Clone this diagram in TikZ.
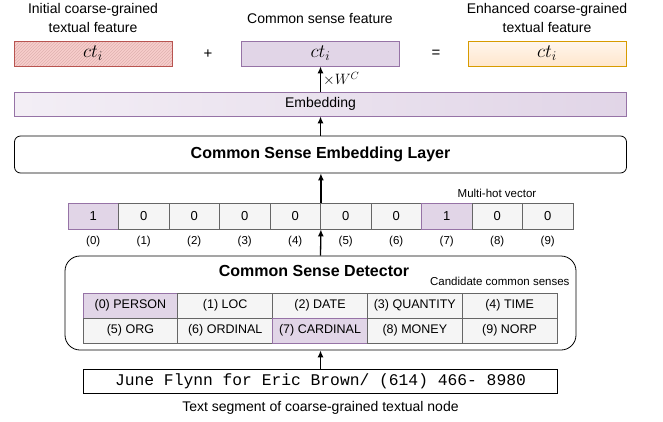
\RequirePackage{fix-cm}
\documentclass[tikz,border=0pt]{standalone}
\usepackage{fontspec}
\setmainfont{Liberation Sans}
\setmonofont{Liberation Mono}
\usetikzlibrary{patterns,arrows.meta}
\definecolor{purplefill}{HTML}{E1D5E7}
\definecolor{purpledraw}{HTML}{9673A6}
\definecolor{redfill}{HTML}{F8CECC}
\definecolor{reddraw}{HTML}{B85450}
\definecolor{orangefill}{HTML}{FFE6CC}
\definecolor{orangedraw}{HTML}{D79B00}
\definecolor{grayfill}{HTML}{F5F5F5}
\definecolor{graydraw}{HTML}{666666}

\begin{document}
\begin{tikzpicture}[x=1pt,y=-1pt,
    feat/.style={draw, minimum width=158pt, minimum height=25pt, inner sep=0pt, line width=0.8pt, font=\fontsize{19}{19}\selectfont},
    layerbox/.style={draw, rounded corners=6pt, line width=0.8pt, inner sep=0pt, font=\fontsize{16}{16}\selectfont\bfseries},
    cell/.style={draw=graydraw, fill=grayfill, minimum width=50.5pt, minimum height=26pt, inner sep=0pt, line width=0.8pt, font=\fontsize{13}{13}\selectfont},
    hotcell/.style={cell, draw=purpledraw, fill=purplefill},
    idx/.style={font=\fontsize{11.5}{11.5}\selectfont},
    sense/.style={draw=graydraw, fill=grayfill, minimum width=94.8pt, minimum height=25pt, inner sep=0pt, line width=0.8pt, font=\fontsize{12.5}{12.5}\selectfont},
    hotsense/.style={sense, draw=purpledraw, fill=purplefill},
    caption/.style={align=center, font=\fontsize{14}{19}\selectfont},
    flow/.style={line width=1.3pt, -{Latex[length=7pt,width=6pt]}}]
        \useasboundingbox (0,0) rectangle (663,421);

        % top row: features
        \node[caption] (initlbl) at (93,18) {Initial coarse-grained\\textual feature};
        \node[caption] (csflbl) at (320,18) {Common sense feature};
        \node[caption] (enhlbl) at (547,18) {Enhanced coarse-grained\\textual feature};
        \node[feat, draw=reddraw, preaction={fill=redfill}, pattern=north east lines, pattern color=reddraw!45] (init) at (93,53.5) {$ct_i$};
        \node[feat, draw=purpledraw, fill=purplefill] (csf) at (320.5,53.5) {$ct_i$};
        \node[feat, draw=orangedraw, top color=orangefill!35, bottom color=orangefill] (enh) at (547,53.5) {$ct_i$};
        \node[font=\fontsize{15}{15}\selectfont] (plus) at (208,54) {+};
        \node[font=\fontsize{15}{15}\selectfont] (eq) at (436,54) {=};

        % embedding
        \node[draw=purpledraw, left color=purplefill!40, right color=purplefill, minimum width=612pt, minimum height=24pt, inner sep=0pt, line width=0.8pt, font=\fontsize{14}{14}\selectfont] (emb) at (320.5,104) {Embedding};
        \node[layerbox, minimum width=612pt, minimum height=37pt] (layer) at (320.5,154.5) {Common Sense Embedding Layer};

        % multi-hot vector
        \node[idx] (mhlbl) at (497,193) {Multi-hot vector};
        \node[hotcell] (v0) at (93.25,216) {1};
        \node[cell] (v1) at (143.75,216) {0};
        \node[cell] (v2) at (194.25,216) {0};
        \node[cell] (v3) at (244.75,216) {0};
        \node[cell] (v4) at (295.25,216) {0};
        \node[cell] (v5) at (345.75,216) {0};
        \node[cell] (v6) at (396.25,216) {0};
        \node[hotcell] (v7) at (446.75,216) {1};
        \node[cell] (v8) at (497.25,216) {0};
        \node[cell] (v9) at (547.75,216) {0};
        \node[idx] (i0) at (93.25,242) {(0)};
        \node[idx] (i1) at (143.75,242) {(1)};
        \node[idx] (i2) at (194.25,242) {(2)};
        \node[idx] (i3) at (244.75,242) {(3)};
        \node[idx] (i4) at (295.25,242) {(4)};
        \node[idx] (i5) at (345.75,242) {(5)};
        \node[idx] (i6) at (396.25,242) {(6)};
        \node[idx] (i7) at (446.75,242) {(7)};
        \node[idx] (i8) at (497.25,242) {(8)};
        \node[idx] (i9) at (547.75,242) {(9)};

        % detector
        \node[draw, rounded corners=15pt, line width=0.8pt, minimum width=511pt, minimum height=94pt] (det) at (320.5,303) {};
        \node[font=\fontsize{16}{16}\selectfont\bfseries] (detlbl) at (314,271) {Common Sense Detector};
        \node[idx, anchor=east] (candlbl) at (573,281) {Candidate common senses};
        \node[hotsense] (s0) at (130.4,305.5) {(0) PERSON};
        \node[sense] (s1) at (225.2,305.5) {(1) LOC};
        \node[sense] (s2) at (320,305.5) {(2) DATE};
        \node[sense] (s3) at (414.8,305.5) {(3) QUANTITY};
        \node[sense] (s4) at (509.6,305.5) {(4) TIME};
        \node[sense] (s5) at (130.4,330.5) {(5) ORG};
        \node[sense] (s6) at (225.2,330.5) {(6) ORDINAL};
        \node[hotsense] (s7) at (320,330.5) {(7) CARDINAL};
        \node[sense] (s8) at (414.8,330.5) {(8) MONEY};
        \node[sense] (s9) at (509.6,330.5) {(9) NORP};

        % input text
        \node[draw, line width=0.8pt, minimum width=474pt, minimum height=24pt, inner sep=0pt, font=\fontsize{16.3}{16.3}\ttfamily] (seg) at (320.5,381) {June Flynn for Eric Brown/ (614) 466- 8980};
        \node[caption] (seglbl) at (320.5,408) {Text segment of coarse-grained textual node};

        \draw[flow] (seg.north) -- (det.south);
        \draw[flow] (det.north) -- (v4.south east);
        \draw[flow] (v4.north east) -- (v4.north east |- layer.south);
        \draw[flow] (layer.north) -- (emb.south);
        \draw[flow] (emb.north) -- node[right, inner sep=2pt, font=\fontsize{15}{15}\selectfont] {$\times W^C$} (csf.south);

    \end{tikzpicture}
\end{document}
